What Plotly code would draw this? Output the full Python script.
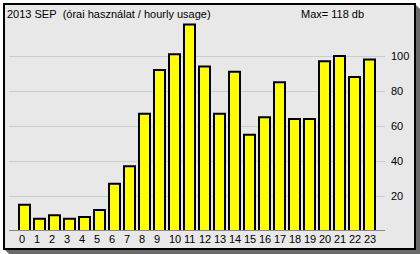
import plotly.graph_objects as go

hours = list(range(24))
hour_labels = [str(h) for h in hours]
usage = [15, 7, 9, 7, 8, 12, 27, 37, 67, 92, 101, 118, 94, 67, 91, 55, 65, 85, 64, 64, 97, 100, 88, 98]
y_ticks = [20, 40, 60, 80, 100]
title_text = "2013 SEP\u00a0 (órai használat / hourly usage)"
max_text = "Max= 118 db"

W, H = 420, 254
PL, PR, PT, PB = 9, 385, 22, 230  # plot area in pixels
PW, PH = PR - PL, PB - PT

def px(x):
    return (x - PL) / PW

def py(y):
    return (PB - y) / PH

FONT = "Liberation Sans"

fig = go.Figure()
fig.add_trace(go.Bar(
    x=hours, y=usage,
    marker=dict(color="#ffff00", line=dict(color="#000000", width=2)),
    width=11 / 15,
    hoverinfo="skip",
))

shapes = []
# shadow
shadow_pts = [(415, 4), (420, 9), (420, 254), (9, 254), (4, 249)]
path = "M " + " L ".join(f"{px(a):.5f},{py(b):.5f}" for a, b in shadow_pts) + " Z"
shapes.append(dict(type="path", xref="paper", yref="paper", path=path,
                   fillcolor="#6a6a6a", line=dict(width=0), layer="below"))
# panel
shapes.append(dict(type="rect", xref="paper", yref="paper",
                   x0=px(4), x1=px(415), y0=py(249), y1=py(4),
                   fillcolor="#e8e8e8", line=dict(color="#000000", width=2), layer="below"))

annotations = []
for h, lab in zip(hours, hour_labels):
    annotations.append(dict(x=h - 6.5 / 15, y=py(238.5), xref="x", yref="paper",
                            text=lab, showarrow=False, xanchor="left", yanchor="middle",
                            borderpad=0, font=dict(family=FONT, size=11, color="#000")))
annotations.append(dict(x=px(6), y=py(13.5), xref="paper", yref="paper", text=title_text,
                        showarrow=False, xanchor="left", yanchor="middle", borderpad=0,
                        font=dict(family=FONT, size=11, color="#000")))
annotations.append(dict(x=px(300), y=py(13.5), xref="paper", yref="paper", text=max_text,
                        showarrow=False, xanchor="left", yanchor="middle", borderpad=0,
                        font=dict(family=FONT, size=11, color="#000")))

scale = 1.75
ymin = 1 / scale
ymax = ymin + PH / scale
xmin = -(24.5 - PL) / 15
xmax = xmin + PW / 15

fig.update_layout(
    width=W, height=H,
    margin=dict(l=PL, r=W - PR, t=PT, b=H - PB, pad=0),
    paper_bgcolor="#ffffff",
    plot_bgcolor="rgba(0,0,0,0)",
    showlegend=False,
    shapes=shapes,
    annotations=annotations,
    xaxis=dict(range=[xmin, xmax], showgrid=False, zeroline=False, showticklabels=False,
               ticks="", showline=True, linecolor="#888888", linewidth=1, fixedrange=True),
    yaxis=dict(range=[ymin, ymax], side="right", tickvals=y_ticks, showgrid=True,
               gridcolor="#cdcdcd", gridwidth=1, zeroline=False, ticks="", showline=False,
               ticklabelstandoff=5, tickfont=dict(family=FONT, size=11, color="#000"),
               fixedrange=True),
)

fig.write_html("out.html", config={"displayModeBar": False})
